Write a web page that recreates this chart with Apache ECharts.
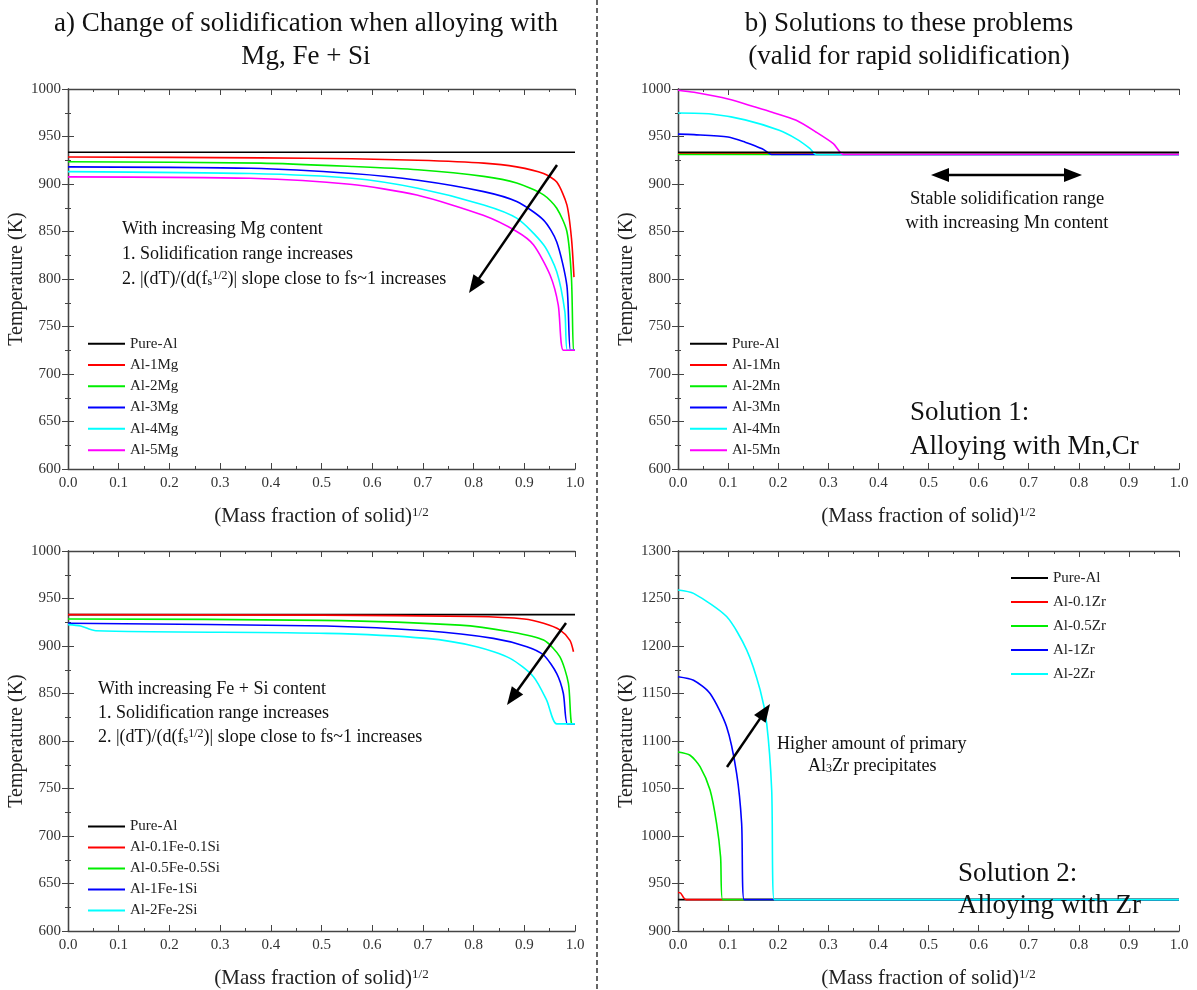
<!DOCTYPE html>
<html><head><meta charset="utf-8">
<script src="https://cdn.jsdelivr.net/npm/echarts@6/dist/echarts.min.js"></script>
<style>html,body{margin:0;padding:0;background:#fff}#c{width:1197px;height:990px}</style>
</head><body><div id="c"></div>
<script>
// ---------- DATA (x = sqrt(mass fraction solid), y = temperature K) ----------
const pureAl_a = [[0,933.5],[1,933.5]];
const al1Mg = [[0,928.5],[0.38,927.5],[0.56,926.5],[0.69,925],[0.82,922],[0.885,918],[0.938,911],[0.964,902],[0.984,878],[0.993,843],[0.998,802]];
const al2Mg = [[0,923.5],[0.38,922],[0.56,918.5],[0.69,915],[0.82,908],[0.885,901],[0.938,888.5],[0.964,874.5],[0.984,850],[0.993,801],[0.997,725],[1,725]];
const al3Mg = [[0,918],[0.36,916.5],[0.56,911],[0.69,904],[0.82,892],[0.885,881.5],[0.938,862],[0.964,839],[0.984,793],[0.991,725],[1,725]];
const al4Mg = [[0,913],[0.36,911],[0.56,906],[0.69,895.5],[0.82,878],[0.885,864],[0.938,836],[0.964,807.7],[0.98,765.6],[0.985,725],[1,725]];
const al5Mg = [[0,907.5],[0.36,906],[0.556,899.7],[0.688,888.4],[0.819,867],[0.885,850],[0.918,836],[0.951,804],[0.967,772.6],[0.977,725],[1,725]];

const pureAl_b = [[0,933],[1,933]];
const al01Fe = [[0,933],[0.5,932.5],[0.8,931],[0.9,928.5],[0.938,924],[0.97,917],[0.99,906],[0.997,894]];
const al05Fe = [[0,928.5],[0.5,927],[0.773,922],[0.872,915],[0.938,906.3],[0.97,888.8],[0.987,860.7],[0.993,818.6],[1,818]];
const al1Fe = [[0,924],[0.51,921],[0.707,916],[0.839,908],[0.905,899.3],[0.938,890.5],[0.964,871],[0.977,850],[0.985,818],[1,818]];
const al2Fe = [[0,922.5],[0.025,921],[0.055,916],[0.51,913.3],[0.707,908],[0.806,899.3],[0.872,887],[0.918,867.7],[0.944,843],[0.964,818],[1,818]];

const pureAl_c = [[0,933.5],[1,933.5]];
const al1Mn = [[0,932.5],[1,932.5]];
const al2Mn = [[0,931],[1,931]];
const al3Mn = [[0,952.5],[0.032,952],[0.1,949.5],[0.134,944],[0.168,937],[0.181,932.5],[0.187,931],[1,931]];
const al4Mn = [[0,974.7],[0.066,973.7],[0.134,967.5],[0.202,956.5],[0.236,947.5],[0.263,937.5],[0.276,931],[1,931]];
const al5Mn = [[0,998.7],[0.032,996.5],[0.1,989.5],[0.154,981],[0.188,975.5],[0.236,967],[0.276,954.5],[0.31,942.5],[0.331,931],[1,931]];

const pureAl_d = [[0,933],[1,933]];
const al01Zr = [[0,940.5],[0.005,940],[0.016,933],[1,933]];
const al05Zr = [[0,1088.4],[0.024,1085],[0.044,1073],[0.064,1048.4],[0.077,1013.4],[0.085,978],[0.089,933],[1,933]];
const al1Zr = [[0,1167.7],[0.031,1164],[0.064,1150],[0.097,1115],[0.117,1066],[0.127,1013.4],[0.132,933],[1,933]];
const al2Zr = [[0,1259],[0.031,1255.4],[0.097,1231],[0.137,1196],[0.164,1153.7],[0.177,1118.6],[0.187,1048.4],[0.192,933],[1,933]];

const xRange = [0, 1, 0.1];
const yRangeTop = [600, 1000, 50];
const yRangeZr = [900, 1300, 50];

// ---------- CHART ----------
const FF = 'Liberation Serif';
const C = {k:'#000000', r:'#ff0000', g:'#00ee00', b:'#0000ff', c:'#00ffff', m:'#ff00ff'};
const grids = [
  {left:68, top:89, width:507, height:380},
  {left:68, top:551, width:507, height:380},
  {left:678, top:89, width:501, height:380},
  {left:678, top:551, width:501, height:380}
];
const yRanges = [yRangeTop, yRangeTop, yRangeTop, yRangeZr];
const axLine = {lineStyle:{color:'#444', width:1.3}};
const xAxes = [], yAxes = [];
grids.forEach((g, i) => {
  const base = {type:'value', gridIndex:i, min:xRange[0], max:xRange[1], interval:xRange[2],
    axisLine:axLine, axisTick:{inside:true, length:6, lineStyle:{color:'#444'}},
    minorTick:{show:true, splitNumber:2, length:3, lineStyle:{color:'#444'}},
    splitLine:{show:false}, minorSplitLine:{show:false}};
  xAxes.push(Object.assign({}, base, {position:'bottom',
    axisLabel:{formatter:v=>v.toFixed(1), fontFamily:FF, fontSize:15, color:'#333', margin:7},
    name:'(Mass fraction of solid){sup|1/2}', nameLocation:'middle', nameGap:37,
    nameTextStyle:{fontFamily:FF, fontSize:21, color:'#222', rich:{sup:{fontFamily:FF, fontSize:13, color:'#222', verticalAlign:'top', lineHeight:13}}}}));
  xAxes.push(Object.assign({}, base, {position:'top', axisLabel:{show:false}}));
  const yr = yRanges[i];
  const ybase = {type:'value', gridIndex:i, min:yr[0], max:yr[1], interval:yr[2],
    axisLine:axLine, axisTick:{inside:true, length:6, lineStyle:{color:'#444'}},
    minorTick:{show:true, splitNumber:2, length:3, lineStyle:{color:'#444'}},
    splitLine:{show:false}, minorSplitLine:{show:false}};
  yAxes.push(Object.assign({}, ybase, {position:'left',
    axisLabel:{formatter:v=>String(v), fontFamily:FF, fontSize:15, color:'#333', margin:7},
    name:'Temperature (K)', nameLocation:'middle', nameGap:38,
    nameTextStyle:{fontFamily:FF, fontSize:20, color:'#222'}}));
  yAxes.push(Object.assign({}, ybase, {position:'right', axisLabel:{show:false}}));
});

function mk(name, data, color, gi, z) {
  return {type:'line', name, data, xAxisIndex:2*gi, yAxisIndex:2*gi, symbol:'none', z:z||2,
    smooth:0.25, lineStyle:{color, width:1.6}, itemStyle:{color},
    animation:false, silent:true};
}
const series = [
  mk('Pure-Al', pureAl_a, C.k, 0), mk('Al-1Mg', al1Mg, C.r, 0), mk('Al-2Mg', al2Mg, C.g, 0),
  mk('Al-3Mg', al3Mg, C.b, 0), mk('Al-4Mg', al4Mg, C.c, 0), mk('Al-5Mg', al5Mg, C.m, 0),
  mk('Pure-Al', pureAl_b, C.k, 1), mk('Al-0.1Fe-0.1Si', al01Fe, C.r, 1), mk('Al-0.5Fe-0.5Si', al05Fe, C.g, 1),
  mk('Al-1Fe-1Si', al1Fe, C.b, 1), mk('Al-2Fe-2Si', al2Fe, C.c, 1),
  mk('Pure-Al', pureAl_c, C.k, 2, 3), mk('Al-1Mn', al1Mn, C.r, 2), mk('Al-2Mn', al2Mn, C.g, 2),
  mk('Al-3Mn', al3Mn, C.b, 2), mk('Al-4Mn', al4Mn, C.c, 2), mk('Al-5Mn', al5Mn, C.m, 2),
  mk('Pure-Al', pureAl_d, C.k, 3), mk('Al-0.1Zr', al01Zr, C.r, 3), mk('Al-0.5Zr', al05Zr, C.g, 3),
  mk('Al-1Zr', al1Zr, C.b, 3), mk('Al-2Zr', al2Zr, C.c, 3)
];

function lg(data, left, top, lh) {
  return {data, orient:'vertical', left, top, itemWidth:37, itemHeight:2, icon:'rect', itemGap:0,
    padding:0, selectedMode:false, textStyle:{fontFamily:FF, fontSize:15, color:'#222', lineHeight:lh}};
}
const legends = [
  lg(['Pure-Al','Al-1Mg','Al-2Mg','Al-3Mg','Al-4Mg','Al-5Mg'], 88, 333, 21.3),
  lg(['Pure-Al','Al-0.1Fe-0.1Si','Al-0.5Fe-0.5Si','Al-1Fe-1Si','Al-2Fe-2Si'], 88, 816, 21),
  lg(['Pure-Al','Al-1Mn','Al-2Mn','Al-3Mn','Al-4Mn','Al-5Mn'], 690, 333, 21.3),
  lg(['Pure-Al','Al-0.1Zr','Al-0.5Zr','Al-1Zr','Al-2Zr'], 1011, 566, 24)
];

function txt(text, x, y, size, align, rich) {
  return {type:'text', silent:true, z:100, style:{text, x, y, font: size+'px "'+FF+'"', fontFamily:FF, fontSize:size,
    fill:'#111', align:align||'left', textAlign:align||'left', verticalAlign:'middle', textVerticalAlign:'middle', rich:rich||undefined}};
}
function arrowHead(x1,y1,x2,y2,len,hw) {
  const a = Math.atan2(y2-y1, x2-x1);
  const bx = x2 - len*Math.cos(a), by = y2 - len*Math.sin(a);
  const px = -Math.sin(a)*hw, py = Math.cos(a)*hw;
  return {type:'polygon', silent:true, z:100, shape:{points:[[x2,y2],[bx+px,by+py],[bx-px,by-py]]}, style:{fill:'#000'}};
}
function arrow(x1,y1,x2,y2) {
  const len=18, a=Math.atan2(y2-y1,x2-x1);
  return [{type:'line', silent:true, z:100, shape:{x1,y1,x2:x2-len*0.8*Math.cos(a),y2:y2-len*0.8*Math.sin(a)}, style:{stroke:'#000', lineWidth:2.5}},
    arrowHead(x1,y1,x2,y2,len,7)];
}
function dblArrow(x1,x2,y) {
  return [{type:'line', silent:true, z:100, shape:{x1:x1+14,y1:y,x2:x2-14,y2:y}, style:{stroke:'#000', lineWidth:2.5}},
    arrowHead(x2,y,x1,y,18,7), arrowHead(x1,y,x2,y,18,7)];
}
const subsup = {sub:{fontFamily:FF, fontSize:12, fill:'#111', verticalAlign:'bottom'},
                sup:{fontFamily:FF, fontSize:12, fill:'#111', verticalAlign:'top'}};
const graphic = [
  {type:'line', silent:true, shape:{x1:597,y1:0,x2:597,y2:990}, style:{stroke:'#555', lineWidth:1.8, lineDash:[5,3]}},
  txt('a) Change of solidification when alloying with', 306, 24, 27, 'center'),
  txt('Mg, Fe + Si', 306, 57, 27, 'center'),
  txt('b) Solutions to these problems', 909, 24, 27, 'center'),
  txt('(valid for rapid solidification)', 909, 57, 27, 'center'),
  txt('With increasing Mg content', 122, 229, 18),
  txt('1. Solidification range increases', 122, 254, 18),
  txt('2. |(dT)/(d(f{sub|s}{sup|1/2})| slope close to fs~1 increases', 122, 279, 18, 'left', subsup),
  txt('With increasing Fe + Si content', 98, 689, 18),
  txt('1. Solidification range increases', 98, 713, 18),
  txt('2. |(dT)/(d(f{sub|s}{sup|1/2})| slope close to fs~1 increases', 98, 737, 18, 'left', subsup),
  txt('Stable solidification range', 1007, 199, 18.5, 'center'),
  txt('with increasing Mn content', 1007, 223, 18.5, 'center'),
  txt('Solution 1:', 910, 413, 27),
  txt('Alloying with Mn,Cr', 910, 447, 27),
  txt('Higher amount of primary', 777, 744, 18),
  txt('Al{sub|3}Zr precipitates', 808, 766, 18, 'left', subsup),
  txt('Solution 2:', 958, 874, 27),
  txt('Alloying with Zr', 958, 906, 27),
  ...arrow(557,165,469,293),
  ...arrow(566,623,507,705),
  ...arrow(727,767,770,704),
  ...dblArrow(931,1082,175)
];

const chart = echarts.init(document.getElementById('c'), null, {renderer:'canvas'});
chart.setOption({animation:false, backgroundColor:'#fff', grid:grids, xAxis:xAxes, yAxis:yAxes,
  series, legend:legends, graphic});
</script></body></html>
